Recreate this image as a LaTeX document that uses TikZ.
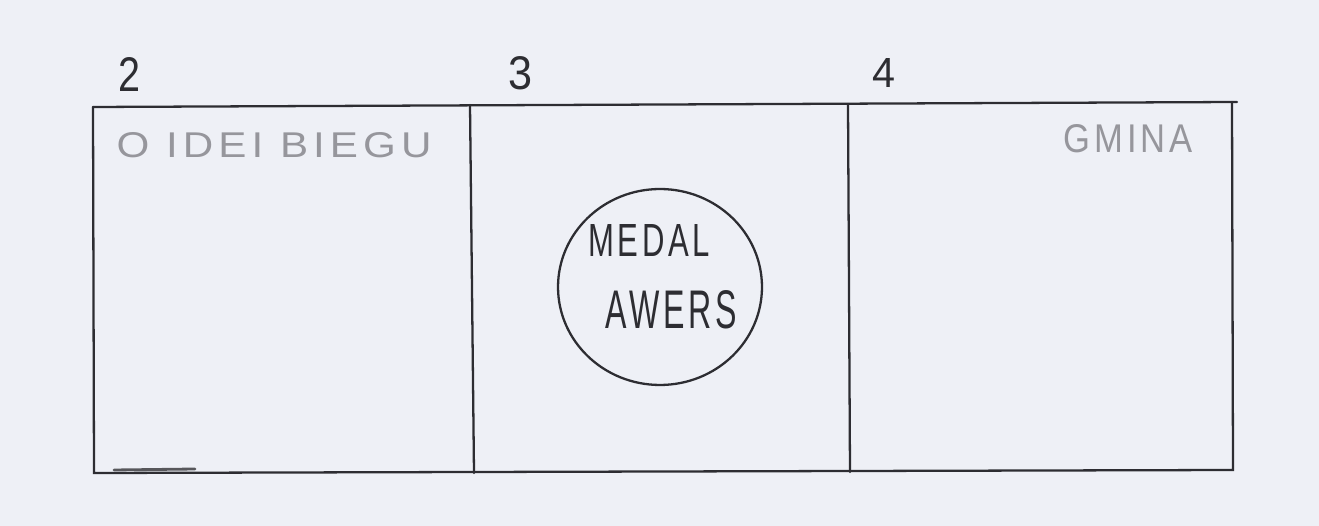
\documentclass[tikz,border=0pt]{standalone}
\usepackage{fontspec}
\usepackage{graphicx}
\usetikzlibrary{shapes.geometric}
\newfontfamily\hand{Liberation Sans}[LetterSpace=12]
\newfontfamily\handnum{Liberation Sans}
\definecolor{paper}{RGB}{238,240,246}
\definecolor{ink}{RGB}{45,45,50}
\definecolor{pencil}{RGB}{150,150,156}
\begin{document}
\begin{tikzpicture}[x=0.02cm,y=-0.02cm,
  frame/.style={draw=ink,line width=1.3pt,line cap=round},
  numlabel/.style={inner sep=0pt,text=ink},
  pencillabel/.style={inner sep=0pt,text=pencil},
  inklabel/.style={inner sep=0pt,text=ink}]
\fill[paper] (0,0) rectangle (1319,526);
\useasboundingbox (0,0) rectangle (1319,526);
% frame corners
\coordinate (tl) at (93,107);
\coordinate (tr) at (1232,102);
\coordinate (trx) at (1237,102);
\coordinate (br) at (1233,470);
\coordinate (bl) at (94,473);
\coordinate (d1t) at (470,105);
\coordinate (d1b) at (474,473);
\coordinate (d2t) at (848,104);
\coordinate (d2b) at (850,472);
\coordinate (s1) at (114,470);
\coordinate (s2) at (195,469);
\draw[frame] (tl) -- (trx);
\draw[frame] (tr) -- (br) -- (bl) -- (tl);
\draw[frame] (d1t) -- (d1b);
\draw[frame] (d2t) -- (d2b);
\draw[draw=ink!80,line width=1.6pt,line cap=round] (s1) -- (s2);
% numbers
\node[numlabel] (n2) at (129,75) {\resizebox{0.44cm}{0.68cm}{\handnum 2}};
\node[numlabel] (n3) at (520,73) {\resizebox{0.48cm}{0.66cm}{\handnum 3}};
\node[numlabel] (n4) at (884,73) {\resizebox{0.46cm}{0.58cm}{\handnum 4}};
% panel texts
\node[pencillabel] (idea) at (274,145) {\resizebox{6.3cm}{0.5cm}{\hand O IDEI BIEGU}};
\node[pencillabel] (gmina) at (1128,139) {\resizebox{2.6cm}{0.56cm}{\hand GMINA}};
% medal
\node[draw=ink,line width=1.3pt,ellipse,minimum width=4.08cm,minimum height=3.92cm,inner sep=0pt] (medal) at (660,287) {};
\node[inklabel] (medaltxt) at (649,241) {\resizebox{2.44cm}{0.64cm}{\hand MEDAL}};
\node[inklabel] (awers) at (671,310) {\resizebox{2.64cm}{0.76cm}{\hand AWERS}};
\end{tikzpicture}
\end{document}
